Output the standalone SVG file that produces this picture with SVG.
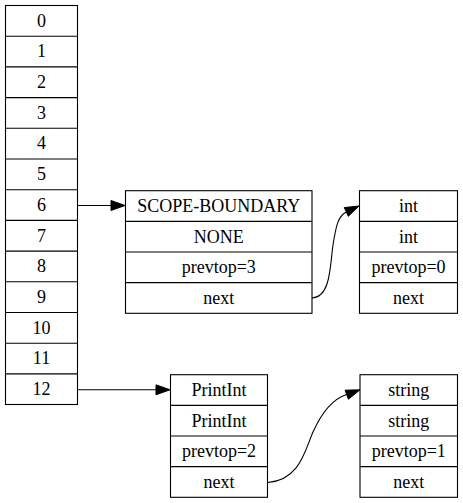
<svg xmlns="http://www.w3.org/2000/svg" width="463" height="503" viewBox="0 0 463 503">
  <style>
    .cell { fill: #fff; stroke: #000; stroke-width: 1.1; }
    .sep { stroke: #000; stroke-width: 1.1; }
    .lbl { font-family: 'Liberation Serif', 'Times New Roman', Times, serif; font-size: 18px; text-anchor: middle; fill: #000; }
    .edge { fill: none; stroke: #000; stroke-width: 1.1; }
    .head { fill: #000; stroke: #000; stroke-width: 1; }
  </style>
  <rect width="463" height="503" fill="#fff"/>

  <!-- stack column: slots 0..12 -->
  <g id="stack">
    <rect class="cell" x="5.5" y="5.5" width="72" height="399"/>
    <line class="sep" x1="5.5" y1="36.2" x2="77.5" y2="36.2"/>
    <line class="sep" x1="5.5" y1="66.9" x2="77.5" y2="66.9"/>
    <line class="sep" x1="5.5" y1="97.6" x2="77.5" y2="97.6"/>
    <line class="sep" x1="5.5" y1="128.3" x2="77.5" y2="128.3"/>
    <line class="sep" x1="5.5" y1="159" x2="77.5" y2="159"/>
    <line class="sep" x1="5.5" y1="189.7" x2="77.5" y2="189.7"/>
    <line class="sep" x1="5.5" y1="220.4" x2="77.5" y2="220.4"/>
    <line class="sep" x1="5.5" y1="251.1" x2="77.5" y2="251.1"/>
    <line class="sep" x1="5.5" y1="281.8" x2="77.5" y2="281.8"/>
    <line class="sep" x1="5.5" y1="312.5" x2="77.5" y2="312.5"/>
    <line class="sep" x1="5.5" y1="343.2" x2="77.5" y2="343.2"/>
    <line class="sep" x1="5.5" y1="373.9" x2="77.5" y2="373.9"/>
    <text class="lbl" x="41.5" y="26.6">0</text>
    <text class="lbl" x="41.5" y="57.3">1</text>
    <text class="lbl" x="41.5" y="88">2</text>
    <text class="lbl" x="41.5" y="118.7">3</text>
    <text class="lbl" x="41.5" y="149.4">4</text>
    <text class="lbl" x="41.5" y="180.1">5</text>
    <text class="lbl" x="41.5" y="210.8">6</text>
    <text class="lbl" x="41.5" y="241.5">7</text>
    <text class="lbl" x="41.5" y="272.2">8</text>
    <text class="lbl" x="41.5" y="302.9">9</text>
    <text class="lbl" x="41.5" y="333.6">10</text>
    <text class="lbl" x="41.5" y="364.3">11</text>
    <text class="lbl" x="41.5" y="395">12</text>
  </g>

  <!-- scope boundary record -->
  <g id="scope">
    <rect class="cell" x="125.5" y="190.7" width="186.5" height="122.6"/>
    <line class="sep" x1="125.5" y1="221.35" x2="312" y2="221.35"/>
    <line class="sep" x1="125.5" y1="252" x2="312" y2="252"/>
    <line class="sep" x1="125.5" y1="282.65" x2="312" y2="282.65"/>
    <text class="lbl" x="218.75" y="211.8">SCOPE-BOUNDARY</text>
    <text class="lbl" x="218.75" y="242.5">NONE</text>
    <text class="lbl" x="218.75" y="273.1">prevtop=3</text>
    <text class="lbl" x="218.75" y="303.8">next</text>
  </g>

  <!-- int record -->
  <g id="int">
    <rect class="cell" x="359.5" y="190.7" width="98" height="122.6"/>
    <line class="sep" x1="359.5" y1="221.35" x2="457.5" y2="221.35"/>
    <line class="sep" x1="359.5" y1="252" x2="457.5" y2="252"/>
    <line class="sep" x1="359.5" y1="282.65" x2="457.5" y2="282.65"/>
    <text class="lbl" x="408.5" y="211.8">int</text>
    <text class="lbl" x="408.5" y="242.5">int</text>
    <text class="lbl" x="408.5" y="273.1">prevtop=0</text>
    <text class="lbl" x="408.5" y="303.8">next</text>
  </g>

  <!-- PrintInt record -->
  <g id="printint">
    <rect class="cell" x="170.5" y="374.7" width="97" height="122.6"/>
    <line class="sep" x1="170.5" y1="405.35" x2="267.5" y2="405.35"/>
    <line class="sep" x1="170.5" y1="436" x2="267.5" y2="436"/>
    <line class="sep" x1="170.5" y1="466.65" x2="267.5" y2="466.65"/>
    <text class="lbl" x="219" y="395.8">PrintInt</text>
    <text class="lbl" x="219" y="426.5">PrintInt</text>
    <text class="lbl" x="219" y="457.1">prevtop=2</text>
    <text class="lbl" x="219" y="487.8">next</text>
  </g>

  <!-- string record -->
  <g id="string">
    <rect class="cell" x="360" y="374.7" width="97.5" height="122.6"/>
    <line class="sep" x1="360" y1="405.35" x2="457.5" y2="405.35"/>
    <line class="sep" x1="360" y1="436" x2="457.5" y2="436"/>
    <line class="sep" x1="360" y1="466.65" x2="457.5" y2="466.65"/>
    <text class="lbl" x="408.75" y="395.8">string</text>
    <text class="lbl" x="408.75" y="426.5">string</text>
    <text class="lbl" x="408.75" y="457.1">prevtop=1</text>
    <text class="lbl" x="408.75" y="487.8">next</text>
  </g>

  <!-- connectors -->
  <g id="edges">
    <path class="edge" d="M77.5,205.5 L112,205.5"/>
    <polygon class="head" points="125,205.5 111,200.5 111,210.5"/>

    <path class="edge" d="M77.5,389.8 L157,389.8"/>
    <polygon class="head" points="170,389.8 156,384.8 156,394.8"/>

    <path class="edge" d="M312,298 C331,297 330,265 333,245 C336,226 338,216 346.3,212"/>
    <polygon class="head" points="359,206 348.3,216.3 344.3,207.6"/>

    <path class="edge" d="M268,482.5 C300,480 305,450 313,432 C322,412 333,399 346.5,394.5"/>
    <polygon class="head" points="360,389.8 348.4,399.3 345.1,390.2"/>
  </g>
</svg>
